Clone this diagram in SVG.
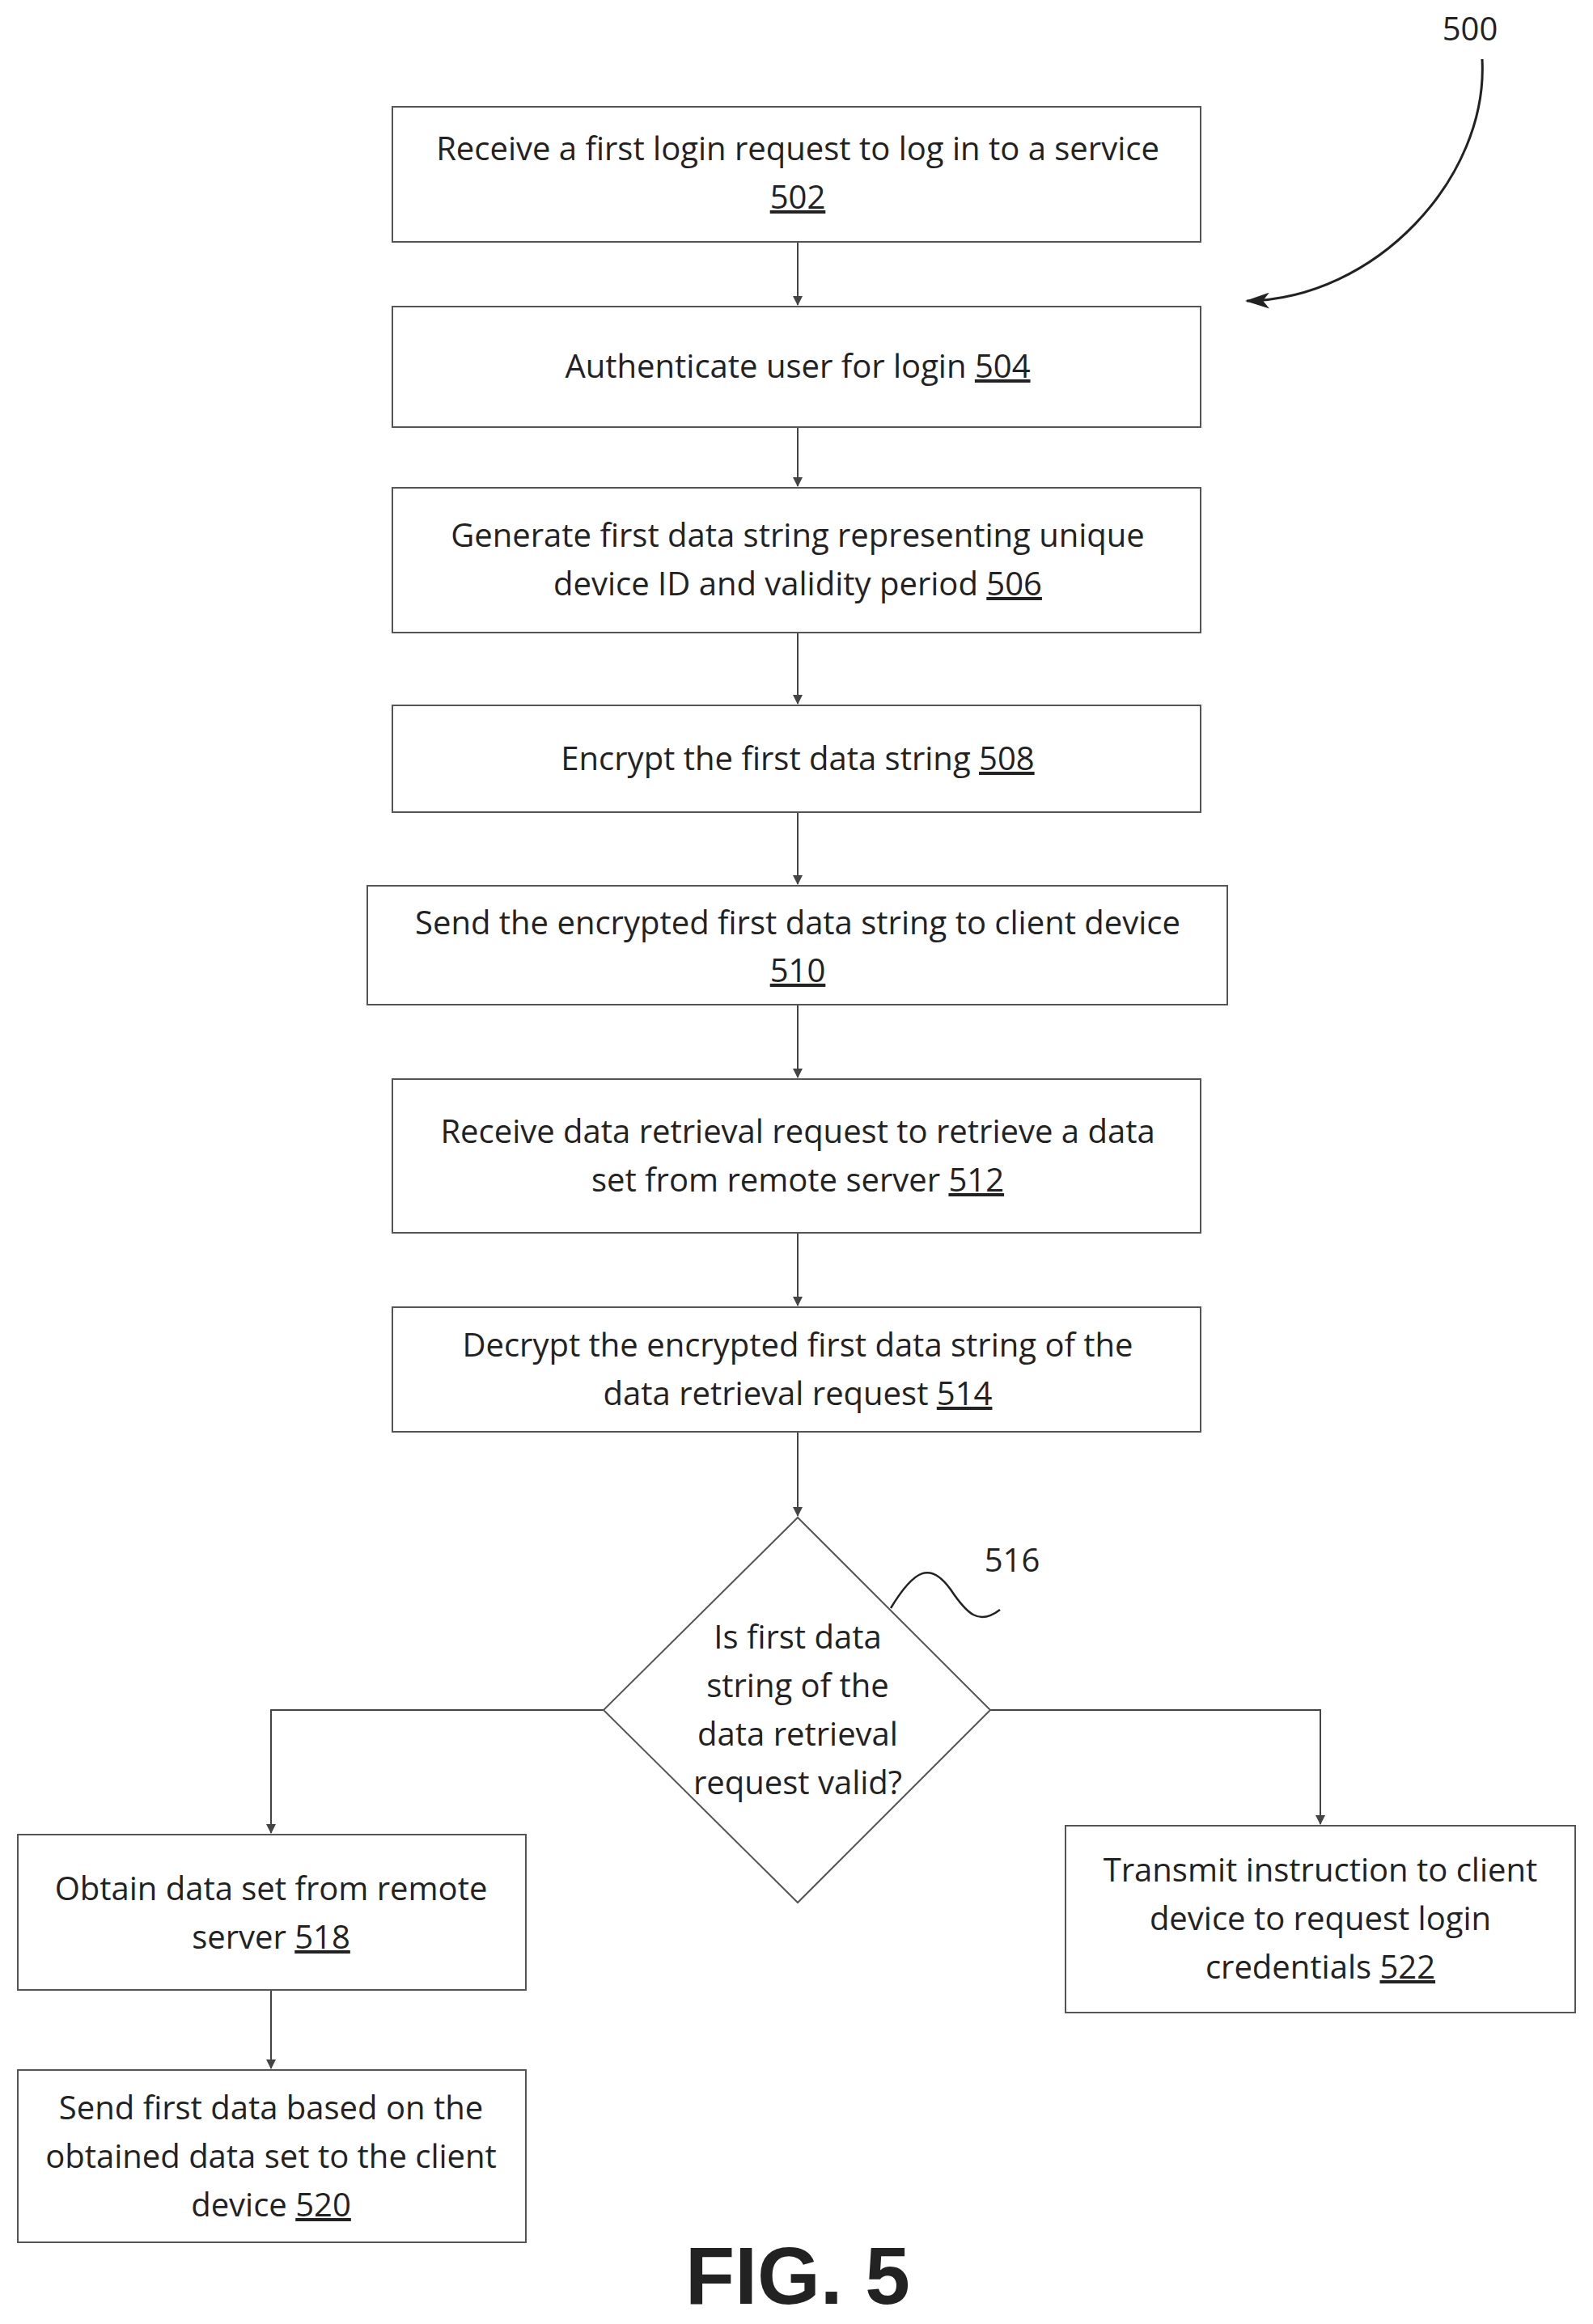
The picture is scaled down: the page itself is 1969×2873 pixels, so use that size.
<svg xmlns="http://www.w3.org/2000/svg" width="1969" height="2873" viewBox="0 0 1969 2873">
<style>
.b{fill:#fff;stroke:#555;stroke-width:2}
.t{font-family:"Open Sans","DejaVu Sans",sans-serif;font-size:40px;fill:#222;text-anchor:middle}
.c{fill:none;stroke:#444;stroke-width:2}
</style>
<defs><marker id="a" markerWidth="12" markerHeight="12" refX="11" refY="6" orient="auto" markerUnits="userSpaceOnUse"><path d="M0,0 L12,6 L0,12 Z" fill="#444"/></marker>
<marker id="a2" markerWidth="30" markerHeight="20" refX="28" refY="10" orient="auto" markerUnits="userSpaceOnUse"><path d="M0,0 L30,10 L0,20 L8,10 Z" fill="#222"/></marker></defs>
<rect width="1969" height="2873" fill="#fff"/>
<g id="connectors">
<path class="c" d="M986,299 V377" marker-end="url(#a)"/>
<path class="c" d="M986,528 V601" marker-end="url(#a)"/>
<path class="c" d="M986,782 V870" marker-end="url(#a)"/>
<path class="c" d="M986,1004 V1093" marker-end="url(#a)"/>
<path class="c" d="M986,1242 V1332" marker-end="url(#a)"/>
<path class="c" d="M986,1524 V1614" marker-end="url(#a)"/>
<path class="c" d="M986,1770 V1874" marker-end="url(#a)"/>
<path class="c" d="M746,2114 H335 V2266" marker-end="url(#a)"/>
<path class="c" d="M1224,2114 H1632 V2255" marker-end="url(#a)"/>
<path class="c" d="M335,2460 V2557" marker-end="url(#a)"/>
<path d="M1832,73 C1840,220 1700,370 1541,372" fill="none" stroke="#222" stroke-width="3" marker-end="url(#a2)"/>
<path d="M1101,1988 C1130,1940 1150,1930 1175,1965 C1195,1995 1210,2010 1236,1990" fill="none" stroke="#222" stroke-width="2.5"/>
</g>
<g id="n500"><text class="t" x="1817" y="50">500</text></g>
<g id="n502"><rect class="b" x="485" y="132" width="999" height="167"/><text class="t" x="986" y="198">Receive a first login request to log in to a service</text><text class="t" x="986" y="258" text-decoration="underline">502</text></g>
<g id="n504"><rect class="b" x="485" y="379" width="999" height="149"/><text class="t" x="986" y="467">Authenticate user for login <tspan text-decoration="underline">504</tspan></text></g>
<g id="n506"><rect class="b" x="485" y="603" width="999" height="179"/><text class="t" x="986" y="676">Generate first data string representing unique</text><text class="t" x="986" y="736">device ID and validity period <tspan text-decoration="underline">506</tspan></text></g>
<g id="n508"><rect class="b" x="485" y="872" width="999" height="132"/><text class="t" x="986" y="952">Encrypt the first data string <tspan text-decoration="underline">508</tspan></text></g>
<g id="n510"><rect class="b" x="454" y="1095" width="1063" height="147"/><text class="t" x="986" y="1155">Send the encrypted first data string to client device</text><text class="t" x="986" y="1214" text-decoration="underline">510</text></g>
<g id="n512"><rect class="b" x="485" y="1334" width="999" height="190"/><text class="t" x="986" y="1413">Receive data retrieval request to retrieve a data</text><text class="t" x="986" y="1473">set from remote server <tspan text-decoration="underline">512</tspan></text></g>
<g id="n514"><rect class="b" x="485" y="1616" width="999" height="154"/><text class="t" x="986" y="1677">Decrypt the encrypted first data string of the</text><text class="t" x="986" y="1737">data retrieval request <tspan text-decoration="underline">514</tspan></text></g>
<g id="n516"><path class="b" d="M986,1876 L1224,2114 L986,2352 L746,2114 Z"/><text class="t" x="986" y="2038">Is first data</text><text class="t" x="986" y="2098">string of the</text><text class="t" x="986" y="2158">data retrieval</text><text class="t" x="986" y="2218">request valid?</text><text class="t" x="1251" y="1943">516</text></g>
<g id="n518"><rect class="b" x="22" y="2268" width="628" height="192"/><text class="t" x="335" y="2349">Obtain data set from remote</text><text class="t" x="335" y="2409">server <tspan text-decoration="underline">518</tspan></text></g>
<g id="n520"><rect class="b" x="22" y="2559" width="628" height="213"/><text class="t" x="335" y="2620">Send first data based on the</text><text class="t" x="335" y="2680">obtained data set to the client</text><text class="t" x="335" y="2740">device <tspan text-decoration="underline">520</tspan></text></g>
<g id="n522"><rect class="b" x="1317" y="2257" width="630" height="231"/><text class="t" x="1632" y="2326">Transmit instruction to client</text><text class="t" x="1632" y="2386">device to request login</text><text class="t" x="1632" y="2446">credentials <tspan text-decoration="underline">522</tspan></text></g>
<text x="986" y="2848" font-family="Liberation Sans,Arial,sans-serif" font-weight="bold" font-size="100" text-anchor="middle" fill="#222">FIG. 5</text>
</svg>
